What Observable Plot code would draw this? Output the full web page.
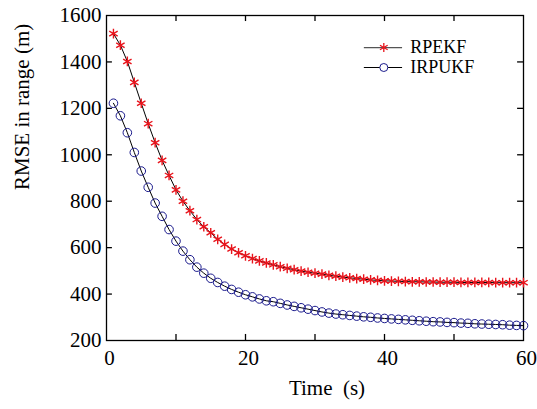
<!DOCTYPE html>
<html><head><meta charset="utf-8">
<script src="https://cdn.jsdelivr.net/npm/d3@7"></script>
<script src="https://cdn.jsdelivr.net/npm/@observablehq/plot@0.6"></script>
</head>
<body style="margin:0;background:#fff">
<div id="chart"></div>
<script>
const time = d3.range(1, 61);
const rpekf = [1522,1472,1402,1312,1222,1134,1052,976,911,849,800,759,721,690,664,636,614,594,578,565,553,543,534,526,518,511,505,499,494,490,486,481,477,473,470,467,464,461,459,457,456,455,454,453,453,452,452,451,451,451,450,450,450,450,450,449,449,449,449,449];
const irpukf = [1222,1168,1095,1010,930,860,792,735,678,628,585,548,516,490,468,450,434,420,408,397,388,379,371,367,360,353,347,341,335,329,323,318,314,311,308,305,302,300,297,295,293,291,289,287,285,283,281,280,278,277,275,274,272,271,270,269,268,266,265,264];
const xTicks = [0,10,20,30,40,50,60];
const xLabels = [0,20,40,60];
const yTicks = [200,400,600,800,1000,1200,1400,1600];
const seriesNames = ["RPEKF","IRPUKF"];

const d1 = time.map((t,i)=>({t, v:rpekf[i]}));
const d2 = time.map((t,i)=>({t, v:irpukf[i]}));
const legend = [{name:seriesNames[0], row:0},{name:seriesNames[1], row:1}];

const xtk = 0.85, ytk = 26;
const fam = "Liberation Serif, DejaVu Serif, serif";

const chart = Plot.plot({
  width: 537, height: 409,
  marginLeft: 106, marginRight: 14, marginTop: 15, marginBottom: 69,
  style: {fontFamily: fam},
  x: {domain:[0,60], label:null},
  y: {domain:[200,1600], label:null},
  marks: [
    Plot.frame({stroke:"#000", strokeWidth:1.3}),
    Plot.ruleX(xTicks.slice(1,-1), {y1:200, y2:200+ytk, stroke:"#000", strokeWidth:1.3}),
    Plot.ruleX(xTicks.slice(1,-1), {y1:1600, y2:1600-ytk, stroke:"#000", strokeWidth:1.3}),
    Plot.ruleY(yTicks.slice(1,-1), {x1:0, x2:xtk, stroke:"#000", strokeWidth:1.3}),
    Plot.ruleY(yTicks.slice(1,-1), {x1:60, x2:60-xtk, stroke:"#000", strokeWidth:1.3}),
    Plot.axisX({ticks:xLabels, tickSize:0, tickPadding:10, dx:3, fontSize:21, fontFamily:fam, fill:"#000", tickFormat:d=>String(d)}),
    Plot.axisY({ticks:yTicks, tickSize:0, tickPadding:5, fontSize:21, fontFamily:fam, fill:"#000", tickFormat:d=>String(d)}),
    Plot.text(["Time  (s)"], {frameAnchor:"bottom", dy:54, dx:12, fontSize:21, fontFamily:fam, fill:"#000", textAnchor:"middle"}),
    Plot.text(["RMSE in range (m)"], {frameAnchor:"left", dx:-84, dy:12, rotate:-90, fontSize:21, fontFamily:fam, fill:"#000"}),
    Plot.line(d1, {x:"t", y:"v", stroke:"#000", strokeWidth:1}),
    Plot.dot(d1, {x:"t", y:"v", symbol:"asterisk", r:4.6, stroke:"#e8141c", strokeWidth:1.4}),
    Plot.line(d2, {x:"t", y:"v", stroke:"#000", strokeWidth:1}),
    Plot.dot(d2, {x:"t", y:"v", symbol:"circle", r:4.3, stroke:"#1a1a8c", fill:"none", strokeWidth:1}),
    // legend
    Plot.ruleY(legend, {y: d=>1462 - d.row*86, x1:37.1, x2:42.6, stroke:d=>d.row? "#000":"#555", strokeWidth:1.2}),
    Plot.dot(legend.filter(d=>d.row===0), {x:39.9, y:1462, symbol:"asterisk", r:4.2, stroke:"#e8141c", strokeWidth:1.3}),
    Plot.dot(legend.filter(d=>d.row===1), {x:39.9, y:1376, symbol:"circle", r:4, stroke:"#1a1a8c", fill:"#fff", strokeWidth:1}),
    Plot.text(legend, {x:43.7, y:d=>1462 - d.row*86, text:"name", textAnchor:"start", fontSize:18, fontFamily:fam, fill:"#000"})
  ]
});
document.getElementById("chart").appendChild(chart);
</script></body></html>
